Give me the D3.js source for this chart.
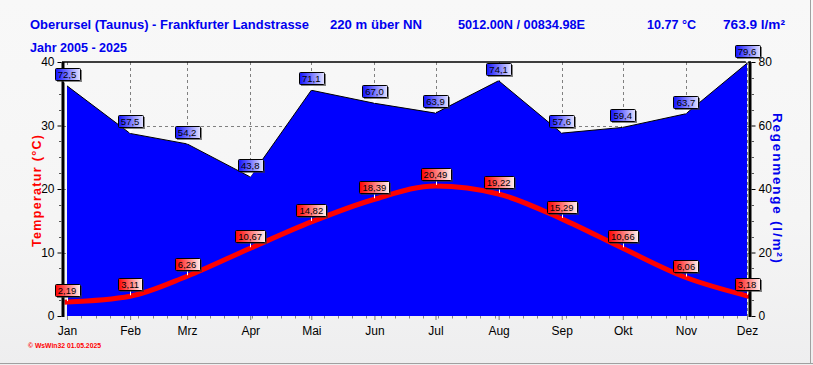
<!DOCTYPE html>
<html><head><meta charset="utf-8">
<script src="https://cdn.jsdelivr.net/npm/d3@7"></script>
<style>html,body{margin:0;padding:0;background:#f7f7f7;}svg{display:block;font-family:Arial,"Liberation Sans",sans-serif;}</style>
</head><body>
<script>
const months = ["Jan","Feb","Mrz","Apr","Mai","Jun","Jul","Aug","Sep","Okt","Nov","Dez"];
const temperature = [2.19,3.11,6.26,10.67,14.82,18.39,20.49,19.22,15.29,10.66,6.06,3.18];
const rain = [72.5,57.5,54.2,43.8,71.1,67.0,63.9,74.1,57.6,59.4,63.7,79.6];
const tempTicks = [0,10,20,30,40];
const rainTicks = [0,20,40,60,80];
const titleParts = [
  {t:"Oberursel (Taunus) - Frankfurter Landstrasse", x:30, w:279},
  {t:"220 m über NN", x:330, w:92},
  {t:"5012.00N / 00834.98E", x:458, w:127},
  {t:"10.77 °C", x:647, w:49},
  {t:"763.9 l/m²", x:723, w:62}
];
const subtitle = "Jahr  2005 - 2025";
const footer = "© WsWin32  01.05.2025";

const W=813,H=365;
const svg=d3.select("body").append("svg").attr("width",W).attr("height",H);
const defs=svg.append("defs");
const bg=defs.append("linearGradient").attr("id","bg").attr("x1",0).attr("y1",0).attr("x2",0).attr("y2",1);
bg.append("stop").attr("offset","0%").attr("stop-color","#f8f8f8");
bg.append("stop").attr("offset","60%").attr("stop-color","#f5f5f5");
bg.append("stop").attr("offset","100%").attr("stop-color","#eeeeef");
const gb=defs.append("linearGradient").attr("id","gblue");
gb.append("stop").attr("offset","0%").attr("stop-color","#1010ff");
gb.append("stop").attr("offset","100%").attr("stop-color","#e4e4ff");
const gr=defs.append("linearGradient").attr("id","gred");
gr.append("stop").attr("offset","0%").attr("stop-color","#ff0000");
gr.append("stop").attr("offset","100%").attr("stop-color","#fff0f0");

svg.append("rect").attr("width",W).attr("height",H).attr("fill","url(#bg)");
svg.append("line").attr("x1",0).attr("x2",W).attr("y1",363.5).attr("y2",363.5).attr("stroke","#a0a0a0");
svg.append("line").attr("x1",810.5).attr("x2",810.5).attr("y1",0).attr("y2",364).attr("stroke","#a0a0a0");

const L=63, R=750, T=62, B=316;
const dates=months.map((m,i)=>new Date(2025,i,1));
const x=d3.scaleTime().domain([dates[0],dates[11]]).range([67,747]);
const yT=d3.scaleLinear().domain([0,40]).range([B,T]);
const yR=d3.scaleLinear().domain([0,80]).range([B,T]);

// grid
const grid=svg.append("g").attr("stroke","#808080").attr("stroke-dasharray","3,3");
grid.selectAll("line.v").data(dates).join("line").attr("x1",d=>Math.round(x(d))+0.5).attr("x2",d=>Math.round(x(d))+0.5).attr("y1",T).attr("y2",B);
grid.selectAll("line.h").data(tempTicks.slice(1,-1)).join("line").attr("x1",L).attr("x2",R).attr("y1",d=>Math.round(yT(d))+0.5).attr("y2",d=>Math.round(yT(d))+0.5);

// rain area
const area=d3.area().x((d,i)=>x(dates[i])).y0(B).y1(d=>yR(d));
svg.append("path").datum(rain).attr("d",area).attr("fill","#0000ff");
svg.append("path").datum(rain).attr("d",d3.line().x((d,i)=>x(dates[i])).y(d=>yR(d))).attr("fill","none").attr("stroke","#000").attr("stroke-width",1);

// temperature line
svg.append("path").datum(temperature).attr("d",d3.line().x((d,i)=>x(dates[i])).y(d=>yT(d)).curve(d3.curveMonotoneX))
  .attr("fill","none").attr("stroke","#ff0000").attr("stroke-width",5).attr("stroke-linecap","square");

// frame
svg.append("line").attr("x1",L-1).attr("x2",R+1).attr("y1",T).attr("y2",T).attr("stroke","#000").attr("stroke-width",1.5);
svg.append("line").attr("x1",L).attr("x2",L).attr("y1",T).attr("y2",B+1).attr("stroke","#000").attr("stroke-width",3);
svg.append("line").attr("x1",R).attr("x2",R).attr("y1",T).attr("y2",B+1).attr("stroke","#000").attr("stroke-width",3);

// left axis
const la=d3.axisLeft(yT).tickValues(tempTicks).tickSize(4).tickPadding(3);
const lg=svg.append("g").attr("transform",`translate(${L-1.5},0)`).call(la);
lg.select(".domain").remove();
lg.selectAll("text").attr("font-size",12).attr("font-family","Arial,'Liberation Sans'").attr("fill","#000");
lg.selectAll("line").attr("stroke","#000");
const lminor=d3.range(0,40.01,2.5).filter(v=>v%10!==0);
svg.append("g").selectAll("line").data(lminor).join("line").attr("x1",L-4).attr("x2",L-1.5).attr("y1",d=>Math.round(yT(d))+0.5).attr("y2",d=>Math.round(yT(d))+0.5).attr("stroke","#555");

// right axis
const ra=d3.axisRight(yR).tickValues(rainTicks).tickSize(4).tickPadding(3);
const rg=svg.append("g").attr("transform",`translate(${R+1.5},0)`).call(ra);
rg.select(".domain").remove();
rg.selectAll("text").attr("font-size",12).attr("font-family","Arial,'Liberation Sans'").attr("fill","#000");
rg.selectAll("line").attr("stroke","#000");
const rminor=d3.range(0,80.01,5).filter(v=>v%20!==0);
svg.append("g").selectAll("line").data(rminor).join("line").attr("x1",R+1.5).attr("x2",R+4).attr("y1",d=>Math.round(yR(d))+0.5).attr("y2",d=>Math.round(yR(d))+0.5).attr("stroke","#555");

// bottom axis
const ba=d3.axisBottom(x).tickValues(dates).tickFormat((d,i)=>months[i]).tickSize(4).tickPadding(6);
const bgx=svg.append("g").attr("transform",`translate(0,${B})`).call(ba);
bgx.select(".domain").remove();
bgx.selectAll("text").attr("font-size",12).attr("font-family","Arial,'Liberation Sans'").attr("fill","#000");
bgx.selectAll("line").attr("stroke","#777");
const weeks=d3.range(0,48).map(k=>new Date(2025,0,1+7*k)).filter(d=>d<=dates[11]);
svg.append("g").selectAll("line").data(weeks).join("line").attr("x1",d=>Math.round(x(d))+0.5).attr("x2",d=>Math.round(x(d))+0.5).attr("y1",B).attr("y2",B+2.5).attr("stroke","#888");

// labels
function labels(vals, yS, fmt, fill, isRain){
  const g=svg.append("g");
  vals.forEach((v,i)=>{
    const px=x(dates[i]), py=yS(v);
    const lg=g.append("g");
    const t=lg.append("text").text(fmt(v)).attr("font-size",9.5).attr("font-family","Arial,'Liberation Sans'").attr("text-anchor","middle").attr("fill","#000");
    const tw=t.node().getComputedTextLength();
    const bw=Math.round(tw+6), bh=12;
    const bx=Math.round(px-bw/2)+0.5, by=Math.round(py-6-bh)+0.5;
    if(isRain){
      lg.insert("path","text").attr("d",`M${px-4},${by+bh} L${px+4},${by+bh} L${px},${py}Z`).attr("fill","#ffffff");
    } else {
      lg.insert("line","text").attr("x1",Math.round(px)+0.5).attr("x2",Math.round(px)+0.5).attr("y1",by+bh).attr("y2",py-1).attr("stroke","#fff");
    }
    lg.insert("rect","text").attr("x",bx+1.5).attr("y",by+1.5).attr("width",bw).attr("height",bh).attr("fill","#333").attr("opacity",0.6);
    lg.insert("rect","text").attr("x",bx).attr("y",by).attr("width",bw).attr("height",bh).attr("fill",fill).attr("stroke","#000").attr("rx",1);
    t.attr("x",px).attr("y",by+bh-2.5);
  });
}
const comma=f=>v=>d3.format(f)(v).replace(".",",");
labels(rain,yR,comma(".1f"),"url(#gblue)",true);
labels(temperature,yT,comma(".2f"),"url(#gred)",false);

// titles
const tg=svg.append("g").attr("fill","#0000ee").attr("font-weight","bold").attr("font-size",13);
titleParts.forEach(p=>tg.append("text").attr("x",p.x).attr("y",29).attr("textLength",p.w).attr("lengthAdjust","spacingAndGlyphs").text(p.t));
tg.append("text").attr("x",30).attr("y",52).attr("textLength",97).attr("lengthAdjust","spacingAndGlyphs").text(subtitle);

svg.append("text").attr("transform","translate(41,191) rotate(-90)").attr("text-anchor","middle").attr("fill","#ff0000").attr("font-weight","bold").attr("font-size",12.5)
  .attr("textLength",112).attr("lengthAdjust","spacing").text("Temperatur  (°C)");
svg.append("text").attr("transform","translate(773,188) rotate(90)").attr("text-anchor","middle").attr("fill","#0000ee").attr("font-weight","bold").attr("font-size",13.5)
  .attr("textLength",150).attr("lengthAdjust","spacing").text("Regenmenge  (l/m²)");

svg.append("text").attr("x",28).attr("y",348).attr("fill","#ff0000").attr("font-weight","bold").attr("font-size",7.5)
  .attr("textLength",73).attr("lengthAdjust","spacingAndGlyphs").text(footer);
</script>
</body></html>
